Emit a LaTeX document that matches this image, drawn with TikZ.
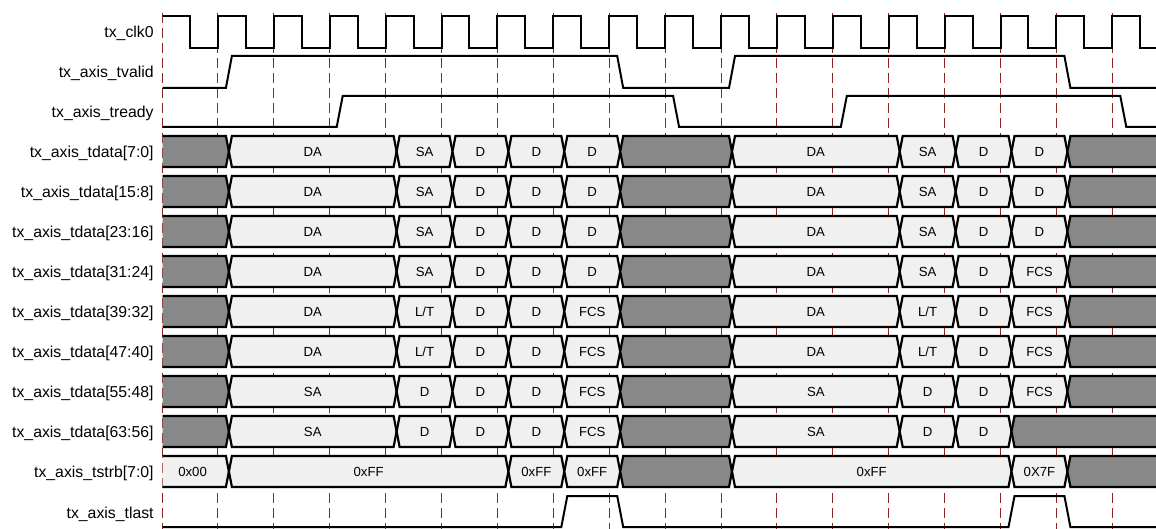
\documentclass[tikz,border=0pt]{standalone}
\usepackage{fontspec}
\setmainfont{Liberation Sans}
\usepackage{xcolor}
\definecolor{tickred}{HTML}{8E2424}
\definecolor{busdark}{HTML}{888888}
\definecolor{buslight}{HTML}{F0F0F0}
\usetikzlibrary{positioning}
\tikzset{
  sig/.style={anchor=east, inner sep=0pt, font=\fontsize{7.9}{9}\selectfont},
  wv/.style={draw=black, line width=1pt},
  tk/.style={draw=tickred, line width=0.5pt, dash pattern=on 5pt off 2.5pt},
  bw/.style={draw=black, line width=1.1pt, fill=buslight},
  bg/.style={draw=black, line width=1.1pt, fill=busdark},
  bt/.style={inner sep=0pt, font=\fontsize{6.6}{8}\selectfont},
}
% x position of clock edge k
\newcommand{\dk}[1]{(162+55.9*(#1))}
% one bus row: name, centre y, segments start/end/style/text
\newcommand{\busrow}[3]{%
  \foreach \a/\b/\s/\t [count=\i] in {#3} {
    \draw[\s] ({\dk{\a}+11},#2) -- ({\dk{\a}+14},#2-15.5) -- ({\dk{\b}+8},#2-15.5)
      -- ({\dk{\b}+11},#2) -- ({\dk{\b}+8},#2+15.5) -- ({\dk{\a}+14},#2+15.5) -- cycle;
    \node[bt] (#1-\i) at ({(\dk{\a}+\dk{\b})/2+11},#2) {\t};
  }}

\begin{document}
\begin{tikzpicture}[x=0.5pt, y=-0.5pt]
  \useasboundingbox (0,0) rectangle (1156,529);

  \foreach \y/\t [count=\i] in {33/tx\_clk0, 73/tx\_axis\_tvalid, 113/tx\_axis\_tready,
      153.5/tx\_axis\_tdata[7:0], 193.5/tx\_axis\_tdata[15:8], 233.5/tx\_axis\_tdata[23:16],
      273.5/tx\_axis\_tdata[31:24], 313.5/tx\_axis\_tdata[39:32], 353.5/tx\_axis\_tdata[47:40],
      393.5/tx\_axis\_tdata[55:48], 433.5/tx\_axis\_tdata[63:56], 473.5/tx\_axis\_tstrb[7:0],
      514/tx\_axis\_tlast}
    \node[sig] (lbl\i) at (154,\y) {\t};

  \foreach \k in {0,...,17}
    \draw[tk] ({\dk{\k}},13) -- ({\dk{\k}},529);

  \begin{scope}
    \clip (162.5,0) rectangle (1156,529);
    \draw[wv] (162,16) \foreach \k in {0,...,17} {
      -- ({\dk{\k}+27.95},16) -- ({\dk{\k}+27.95},48) -- ({\dk{\k+1}},48) -- ({\dk{\k+1}},16) };
    \draw[wv] (162,88) -- ({\dk{1}+8},88) -- ({\dk{1}+14},56) -- ({\dk{8}+8},56)
      -- ({\dk{8}+14},88) -- ({\dk{10}+8},88) -- ({\dk{10}+14},56) -- ({\dk{16}+8},56)
      -- ({\dk{16}+14},88) -- (1160,88);
    \draw[wv] (162,127) -- ({\dk{3}+7},127) -- ({\dk{3}+13},96) -- ({\dk{9}+8},96)
      -- ({\dk{9}+14},127) -- ({\dk{12}+8},127) -- ({\dk{12}+14},96) -- ({\dk{17}+8},96)
      -- ({\dk{17}+14},127) -- (1160,127);
    \draw[wv] (162,527) -- ({\dk{7}+8},527) -- ({\dk{7}+14},496) -- ({\dk{8}+8},496)
      -- ({\dk{8}+14},527) -- ({\dk{15}+8},527) -- ({\dk{15}+14},496) -- ({\dk{16}+8},496)
      -- ({\dk{16}+14},527) -- (1160,527);

    \busrow{r0}{151.5}{-0.3/1/bg/{}, 1/4/bw/DA, 4/5/bw/SA, 5/6/bw/D, 6/7/bw/D, 7/8/bw/D,
      8/10/bg/{}, 10/13/bw/DA, 13/14/bw/SA, 14/15/bw/D, 15/16/bw/D, 16/18/bg/{}}
    \busrow{r1}{191.5}{-0.3/1/bg/{}, 1/4/bw/DA, 4/5/bw/SA, 5/6/bw/D, 6/7/bw/D, 7/8/bw/D,
      8/10/bg/{}, 10/13/bw/DA, 13/14/bw/SA, 14/15/bw/D, 15/16/bw/D, 16/18/bg/{}}
    \busrow{r2}{231.5}{-0.3/1/bg/{}, 1/4/bw/DA, 4/5/bw/SA, 5/6/bw/D, 6/7/bw/D, 7/8/bw/D,
      8/10/bg/{}, 10/13/bw/DA, 13/14/bw/SA, 14/15/bw/D, 15/16/bw/D, 16/18/bg/{}}
    \busrow{r3}{271.5}{-0.3/1/bg/{}, 1/4/bw/DA, 4/5/bw/SA, 5/6/bw/D, 6/7/bw/D, 7/8/bw/D,
      8/10/bg/{}, 10/13/bw/DA, 13/14/bw/SA, 14/15/bw/D, 15/16/bw/FCS, 16/18/bg/{}}
    \busrow{r4}{311.5}{-0.3/1/bg/{}, 1/4/bw/DA, 4/5/bw/{L/T}, 5/6/bw/D, 6/7/bw/D, 7/8/bw/FCS,
      8/10/bg/{}, 10/13/bw/DA, 13/14/bw/{L/T}, 14/15/bw/D, 15/16/bw/FCS, 16/18/bg/{}}
    \busrow{r5}{351.5}{-0.3/1/bg/{}, 1/4/bw/DA, 4/5/bw/{L/T}, 5/6/bw/D, 6/7/bw/D, 7/8/bw/FCS,
      8/10/bg/{}, 10/13/bw/DA, 13/14/bw/{L/T}, 14/15/bw/D, 15/16/bw/FCS, 16/18/bg/{}}
    \busrow{r6}{391.5}{-0.3/1/bg/{}, 1/4/bw/SA, 4/5/bw/D, 5/6/bw/D, 6/7/bw/D, 7/8/bw/FCS,
      8/10/bg/{}, 10/13/bw/SA, 13/14/bw/D, 14/15/bw/D, 15/16/bw/FCS, 16/18/bg/{}}
    \busrow{r7}{431.5}{-0.3/1/bg/{}, 1/4/bw/SA, 4/5/bw/D, 5/6/bw/D, 6/7/bw/D, 7/8/bw/FCS,
      8/10/bg/{}, 10/13/bw/SA, 13/14/bw/D, 14/15/bw/D, 15/18/bg/{}}
    \busrow{st}{471.5}{-0.3/1/bw/0x00, 1/6/bw/0xFF, 6/7/bw/0xFF, 7/8/bw/0xFF,
      8/10/bg/{}, 10/15/bw/0xFF, 15/16/bw/0X7F, 16/18/bg/{}}
  \end{scope}
\end{tikzpicture}
\end{document}
